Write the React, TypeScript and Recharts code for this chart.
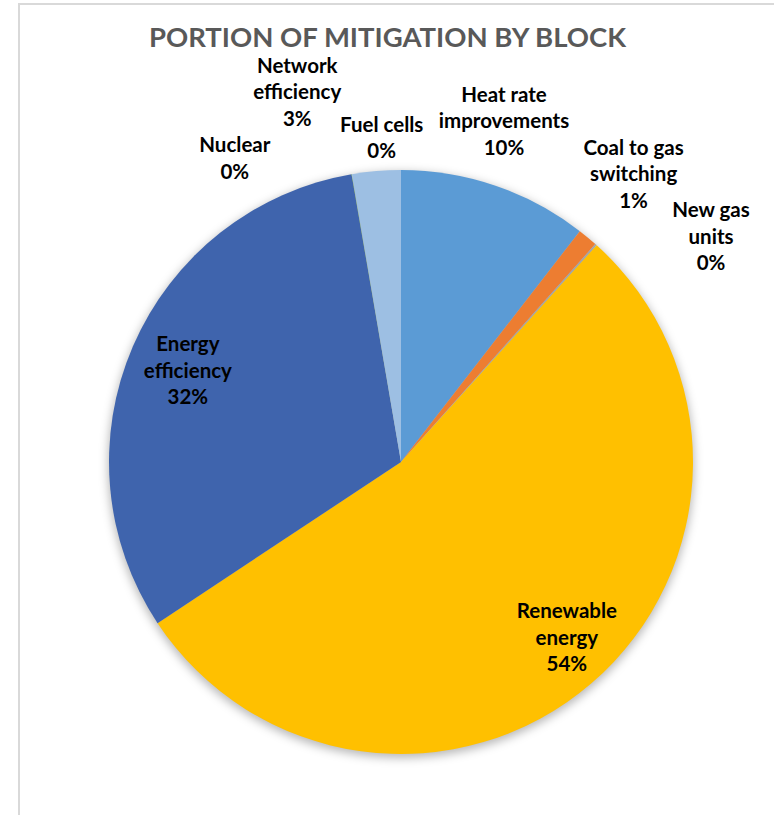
import React from "react";
import { PieChart, Pie, Cell } from "recharts";

const categories = [
  "Heat rate improvements",
  "Coal to gas switching",
  "New gas units",
  "Renewable energy",
  "Energy efficiency",
  "Nuclear",
  "Network efficiency",
  "Fuel cells",
];
const shares = [10.49, 1.1, 0.1, 54.0, 31.6, 0.02, 2.69, 0];
const labelLines = [
  ["Heat rate", "improvements"],
  ["Coal to gas", "switching"],
  ["New gas", "units"],
  ["Renewable", "energy"],
  ["Energy", "efficiency"],
  ["Nuclear"],
  ["Network", "efficiency"],
  ["Fuel cells"],
];
const colors = ["#5B9BD5", "#ED7D31", "#A5A5A5", "#FFC000", "#3F64AD", "#70AD47", "#9DBFE3", "#264478"];
// label placement: radius factor & angular shift (deg, clockwise)
const labelLayout = [
  { rf: 1.222, da: -2.1 },
  { rf: 1.27, da: -0.9 },
  { rf: 1.314, da: 12 },
  { rf: 0.825, da: -2.8 },
  { rf: 0.795, da: 0 },
  { rf: 1.188, da: -18.9 },
  { rf: 1.318, da: -10.8 },
  { rf: 1.115, da: -3.4 },
];

const data = categories.map((name, i) => ({ name, value: shares[i] }));
const total = shares.reduce((a, b) => a + b, 0);
const shadowData = [{ name: "shadow", value: total }];

const FONT = "Lato, 'Open Sans', sans-serif";

const renderLabel = (props: any) => {
  const { cx, cy, midAngle, outerRadius, index, value } = props;
  const lay = labelLayout[index];
  const cw = 90 - midAngle + lay.da;
  const rad = (cw * Math.PI) / 180;
  const r = outerRadius * lay.rf;
  const x = cx + r * Math.sin(rad);
  const y = cy - r * Math.cos(rad);
  const lines = [...labelLines[index], `${Math.round((value / total) * 100)}%`];
  const lh = 26.5;
  const y0 = y - ((lines.length - 1) * lh) / 2;
  return (
    <text
      key={`lbl-${index}`}
      x={x}
      y={y0}
      textAnchor="middle"
      dominantBaseline="central"
      fontFamily={FONT}
      fontWeight={700}
      fontSize={20.5}
      fill="#000"
    >
      {lines.map((l, k) => (
        <tspan key={k} x={x} y={y0 + k * lh} dominantBaseline="central">
          {l}
        </tspan>
      ))}
    </text>
  );
};

export default function App() {
  return (
    <div style={{ position: "absolute", left: 0, top: 0, width: 774, height: 815, background: "#fff", overflow: "hidden" }}>
      <div
        style={{
          position: "absolute",
          left: 18,
          top: 3,
          width: 800,
          height: 850,
          borderLeft: "2px solid #D9D9D9",
          borderTop: "2px solid #D9D9D9",
          boxSizing: "border-box",
        }}
      />
      <div style={{ position: "absolute", left: 0, top: 0 }}>
        <PieChart width={774} height={815} margin={{ top: 0, right: 0, bottom: 0, left: 0 }}>
          <text
            x={387.5}
            y={36}
            textAnchor="middle"
            dominantBaseline="central"
            fontFamily={FONT}
            fontWeight={700}
            fontSize={27.5}
            fill="#595959"
          >
            PORTION OF MITIGATION BY BLOCK
          </text>
          <Pie
            data={shadowData}
            dataKey="value"
            cx={401}
            cy={465}
            outerRadius={293}
            startAngle={90}
            endAngle={-270}
            stroke="none"
            isAnimationActive={false}
          >
            <Cell fill="rgba(0,0,0,0.28)" style={{ filter: "blur(5px)" }} />
          </Pie>
          <Pie
            data={data}
            dataKey="value"
            nameKey="name"
            cx={401}
            cy={462}
            outerRadius={292}
            startAngle={90}
            endAngle={-270}
            stroke="none"
            labelLine={false}
            label={renderLabel}
            isAnimationActive={false}
          >
            {data.map((d, i) => (
              <Cell key={d.name} fill={colors[i]} stroke="none" />
            ))}
          </Pie>
        </PieChart>
      </div>
    </div>
  );
}
